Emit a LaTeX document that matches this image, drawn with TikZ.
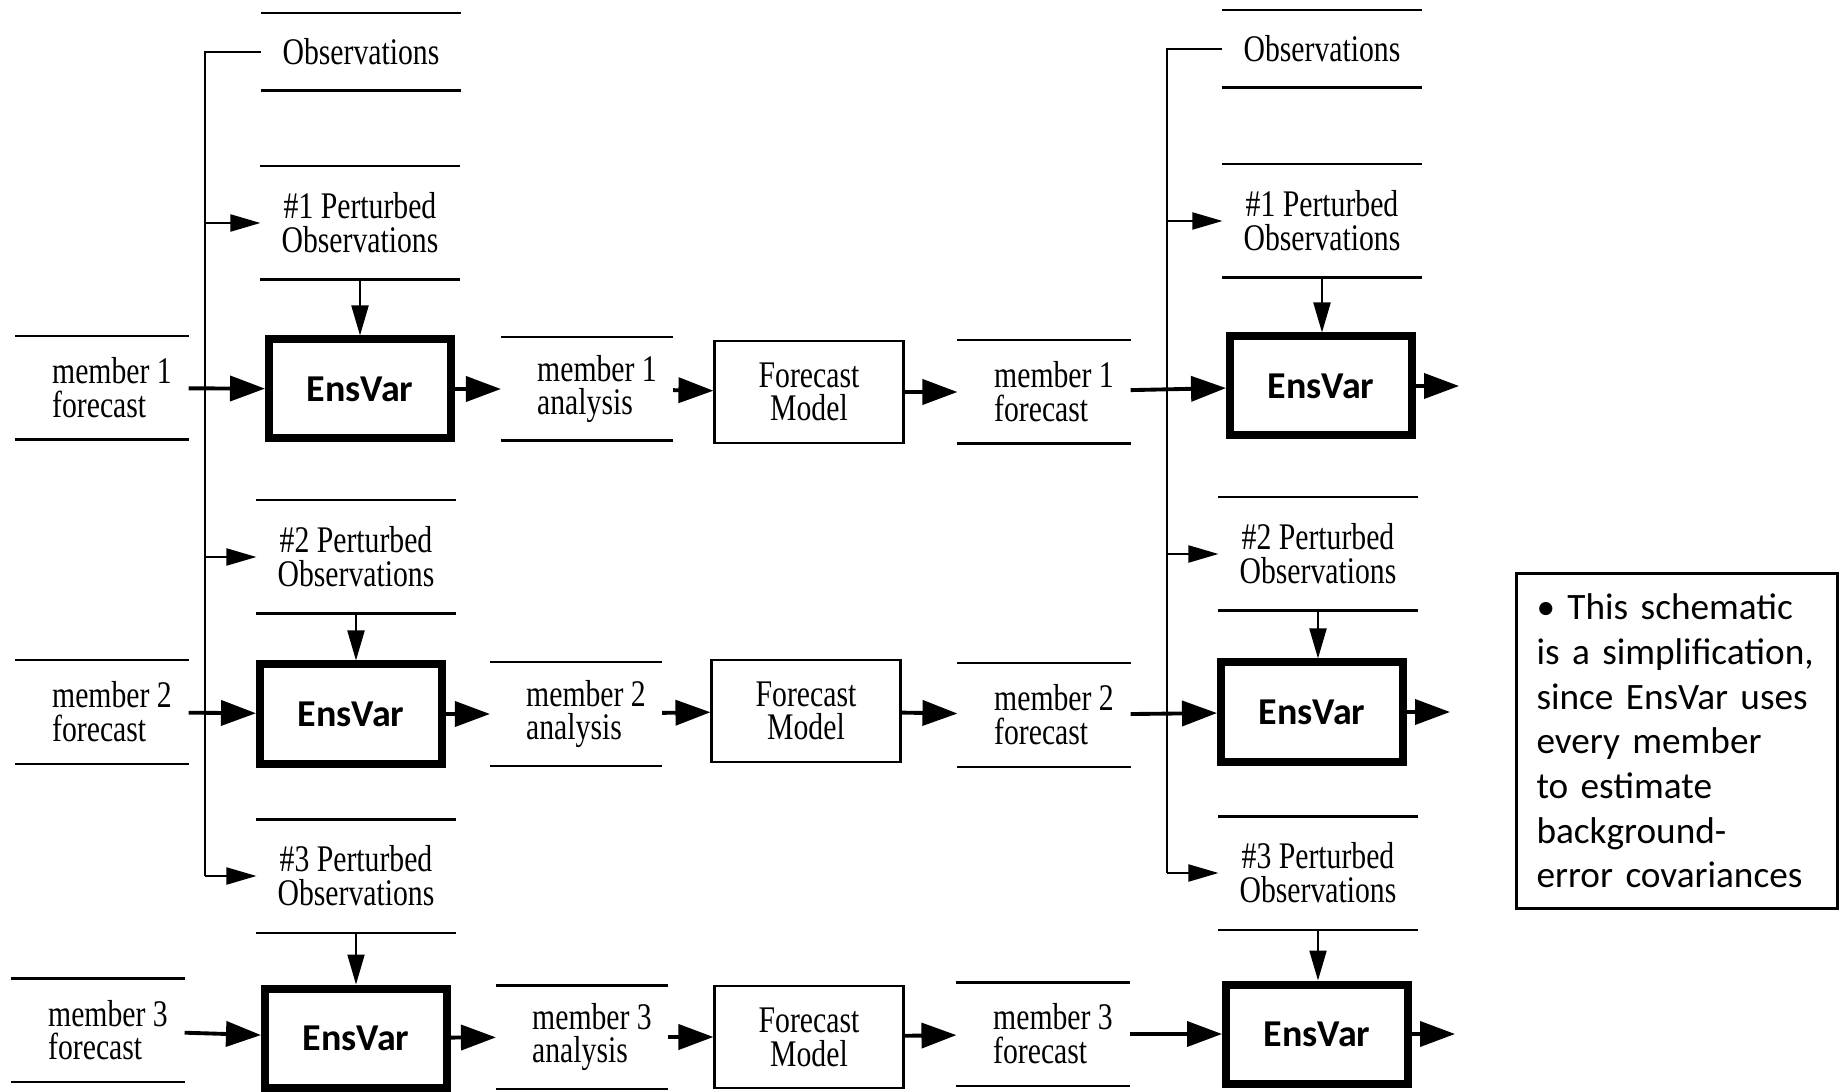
\documentclass[tikz,border=0pt]{standalone}
\usepackage{fontspec}
\usetikzlibrary{positioning}
\usetikzlibrary{arrows.meta}
\newfontfamily\serifnarrow[FakeStretch=0.79]{Liberation Serif}
\newfontfamily\calfamily{Carlito}
\newcommand{\storefont}{\serifnarrow\fontsize{10.7}{9.6}\selectfont}
\newcommand{\ensfont}{\calfamily\bfseries\fontsize{10.8}{12}\selectfont}
\newcommand{\notefont}{\calfamily\fontsize{10.6}{12.7}\selectfont}
\newcommand{\memtext}[2]{\hspace*{0.2cm}member #1\\\hspace*{0.2cm}#2}

\begin{document}
\begin{tikzpicture}[align=center, x=1cm, y=-1cm, line width=0.6pt]
        \storefont
       \useasboundingbox (0,0) rectangle (18.39,10.92);
       \tikzstyle{store} = [
            rectangle,
            inner sep=0pt,
            append after command={
                (\tikzlastnode.north west) edge (\tikzlastnode.north east)
                (\tikzlastnode.south west) edge (\tikzlastnode.south east)}
       ]
       \tikzstyle{memstore} = [
            store,
            align=left,
            minimum width=1.71cm,
            minimum height=1.01cm
       ]
       \tikzstyle{obsstore} = [
            store,
            align=center,
            minimum width=1.97cm,
            minimum height=1.11cm
       ]
       \tikzstyle{ensvar} = [
            rectangle,
            draw=black,
            line width=0.08cm,
            minimum width=1.82cm,
            minimum height=0.99cm,
            font=\ensfont
       ]
       \tikzstyle{model} = [
            rectangle,
            draw=black,
            minimum width=1.89cm,
            minimum height=1.02cm
       ]
       \tikzstyle{notebox} = [
            rectangle,
            draw=black,
            line width=0.8pt,
            text width=2.81cm,
            inner sep=0.2cm,
            minimum height=3.35cm,
            align=left,
            font=\notefont
       ]
       \tikzstyle{arrow} = [line width=1.1pt, -{Triangle[length=0.35cm, width=0.25cm]}]
       \tikzstyle{thinarrow} = [-{Triangle[length=0.3cm, width=0.17cm]}]

       % first cycle
       \node (obsa) at (3.61,0.52) [obsstore, minimum height=0.75cm] {Observations};
       \node (pert1a) at (3.60,2.23) [obsstore] {\#1 Perturbed\\Observations};
       \node (pert2a) at (3.56,5.57) [obsstore] {\#2 Perturbed\\Observations};
       \node (pert3a) at (3.56,8.76) [obsstore] {\#3 Perturbed\\Observations};
       \node (fc1a) at (1.02,3.88) [memstore] {\memtext{1}{forecast}};
       \node (fc2a) at (1.02,7.12) [memstore] {\memtext{2}{forecast}};
       \node (fc3a) at (0.98,10.30) [memstore] {\memtext{3}{forecast}};
       \node (ens1a) at (3.60,3.89) [ensvar] {EnsVar};
       \node (ens2a) at (3.51,7.14) [ensvar] {EnsVar};
       \node (ens3a) at (3.56,10.38) [ensvar] {EnsVar};
       \coordinate (busa) at (2.05,0.52);

       % forecast step
       \node (an1) at (5.87,3.89) [memstore, minimum width=1.70cm] {\memtext{1}{analysis}};
       \node (an2) at (5.76,7.14) [memstore, minimum width=1.70cm] {\memtext{2}{analysis}};
       \node (an3) at (5.82,10.37) [memstore, minimum width=1.70cm] {\memtext{3}{analysis}};
       \node (mod1) at (8.09,3.92) [model] {Forecast\\Model};
       \node (mod2) at (8.06,7.11) [model] {Forecast\\Model};
       \node (mod3) at (8.09,10.37) [model] {Forecast\\Model};
       \node (fc1b) at (10.44,3.92) [memstore] {\memtext{1}{forecast}};
       \node (fc2b) at (10.44,7.15) [memstore] {\memtext{2}{forecast}};
       \node (fc3b) at (10.43,10.34) [memstore] {\memtext{3}{forecast}};

       % second cycle
       \node (obsb) at (13.22,0.49) [obsstore, minimum height=0.75cm] {Observations};
       \node (pert1b) at (13.22,2.21) [obsstore] {\#1 Perturbed\\Observations};
       \node (pert2b) at (13.18,5.54) [obsstore] {\#2 Perturbed\\Observations};
       \node (pert3b) at (13.18,8.73) [obsstore] {\#3 Perturbed\\Observations};
       \node (ens1b) at (13.21,3.86) [ensvar] {EnsVar};
       \node (ens2b) at (13.12,7.12) [ensvar] {EnsVar};
       \node (ens3b) at (13.17,10.34) [ensvar] {EnsVar};
       \coordinate (busb) at (11.67,0.49);
       \coordinate (out1) at ([xshift=0.43cm]ens1b.east);
       \coordinate (out2) at ([xshift=0.43cm]ens2b.east);
       \coordinate (out3) at ([xshift=0.43cm]ens3b.east);

       \node (note) at (16.77,7.41) [notebox] {\textbullet{} This schematic\\is a simplification,\\since EnsVar uses\\every member\\to estimate\\background-\\error covariances};

       \draw (obsa.west) -- (busa) -- (busa |- pert3a);
       \draw[thinarrow] (busa |- pert1a) -- (pert1a.west);
       \draw[thinarrow] (busa |- pert2a) -- (pert2a.west);
       \draw[thinarrow] (busa |- pert3a) -- (pert3a.west);
       \draw[thinarrow] (pert1a.south) -- (pert1a.south |- ens1a.north);
       \draw[thinarrow] (pert2a.south) -- (pert2a.south |- ens2a.north);
       \draw[thinarrow] (pert3a.south) -- (pert3a.south |- ens3a.north);
       \draw[arrow] (fc1a) -- (ens1a);
       \draw[arrow] (fc2a) -- (ens2a);
       \draw[arrow] (fc3a) -- (ens3a);
       \draw[arrow] (ens1a) -- (an1);
       \draw[arrow] (ens2a) -- (an2);
       \draw[arrow] (ens3a) -- (an3);
       \draw[arrow] (an1) -- (mod1);
       \draw[arrow] (an2) -- (mod2);
       \draw[arrow] (an3) -- (mod3);
       \draw[arrow] (mod1) -- (fc1b);
       \draw[arrow] (mod2) -- (fc2b);
       \draw[arrow] (mod3) -- (fc3b);

       \draw (obsb.west) -- (busb) -- (busb |- pert3b);
       \draw[thinarrow] (busb |- pert1b) -- (pert1b.west);
       \draw[thinarrow] (busb |- pert2b) -- (pert2b.west);
       \draw[thinarrow] (busb |- pert3b) -- (pert3b.west);
       \draw[thinarrow] (pert1b.south) -- (pert1b.south |- ens1b.north);
       \draw[thinarrow] (pert2b.south) -- (pert2b.south |- ens2b.north);
       \draw[thinarrow] (pert3b.south) -- (pert3b.south |- ens3b.north);
       \draw[arrow] (fc1b) -- (ens1b);
       \draw[arrow] (fc2b) -- (ens2b);
       \draw[arrow] (fc3b) -- (ens3b);
       \draw[arrow] (ens1b) -- (out1);
       \draw[arrow] (ens2b) -- (out2);
       \draw[arrow] (ens3b) -- (out3);
\end{tikzpicture}
\end{document}
